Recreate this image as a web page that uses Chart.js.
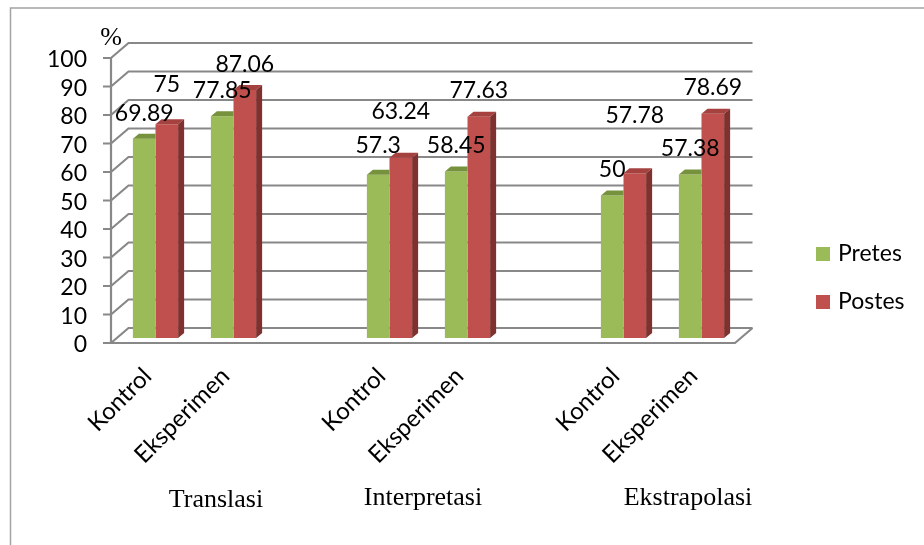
<!DOCTYPE html>
<html>
<head>
<meta charset="utf-8">
<title>Pretes dan Postes</title>
<script src="https://cdn.jsdelivr.net/npm/chart.js@4.4.1/dist/chart.umd.min.js"></script>
<style>
  html, body { margin: 0; padding: 0; background: #fff; }
  canvas { display: block; }
</style>
</head>
<body>
<canvas id="chart" width="924" height="545"></canvas>
<script>
'use strict';

/* ─── Data ─── */
const ASPECTS = ['Translasi', 'Interpretasi', 'Ekstrapolasi'];
const CLASSES = ['Kontrol', 'Eksperimen'];

// mean score (%) per class, in aspect order
const PRETES = [69.89, 77.85, 57.3, 58.45, 50, 57.38];
const POSTES = [75, 87.06, 63.24, 77.63, 57.78, 78.69];

const Y_MIN = 0, Y_MAX = 100, Y_STEP = 10;

/* ─── Look ─── */
const SANS  = '"Lato", "Open Sans", sans-serif';
const SERIF = '"Liberation Serif", "DejaVu Serif", serif';
const FONT_SIZE = 23;
const GREEN = '#9bbb59', GREEN_TOP = '#76923c';
const RED   = '#c0504d', RED_TOP = '#a5423f', RED_SIDE = '#7e312e';
const GRID  = '#888888';

// how far each value label sits above its bar
const PRE_LIFT  = [25, 26, 29, 26, 26, 26];
const POST_LIFT = [40, 25, 46, 26, 58, 26];

// x centres of the aspect captions under the axis
const ASPECT_X = [216, 423, 688];

// bar depth and wall offsets (px)
const DEPTH_X = 6, DEPTH_Y = 5;
const FRONT_X = -5.5, FRONT_Y = 5;
const WALL_X = 17.5, WALL_Y = -15;

/* ─── Build padded category list: a blank slot between aspects ─── */
const labels = [], pre = [], post = [], preLift = [], postLift = [];
ASPECTS.forEach((a, g) => {
  if (g > 0) {
    labels.push(''); pre.push(null); post.push(null);
    preLift.push(0); postLift.push(0);
  }
  CLASSES.forEach((c, k) => {
    const i = g * CLASSES.length + k;
    labels.push(c);
    pre.push(PRETES[i]);  preLift.push(PRE_LIFT[i]);
    post.push(POSTES[i]); postLift.push(POST_LIFT[i]);
  });
});

/* ─── Walls, floor and front axis ─── */
const frame3d = {
  id: 'frame3d',
  beforeDraw(chart) {
    const ctx = chart.ctx;
    ctx.save();
    ctx.strokeStyle = '#a3a3a3';
    ctx.lineWidth = 1.5;
    ctx.beginPath();
    ctx.moveTo(10.5, 545); ctx.lineTo(10.5, 8); ctx.lineTo(924, 8);
    ctx.stroke();
    ctx.restore();
  },
  beforeDatasetsDraw(chart) {
    const { ctx, chartArea: a, scales: { y } } = chart;
    const fl = a.left + FRONT_X, fr = a.right + FRONT_X;
    const bl = fl + WALL_X, br = fr + WALL_X;
    ctx.save();
    ctx.strokeStyle = GRID;
    ctx.lineWidth = 2.2;
    ctx.lineCap = 'butt';
    for (let v = Y_MIN; v <= Y_MAX; v += Y_STEP) {
      const fy = y.getPixelForValue(v) + FRONT_Y;
      const by = fy + WALL_Y;
      ctx.beginPath();
      ctx.moveTo(fl - 8, fy); ctx.lineTo(fl, fy);     // tick
      ctx.lineTo(bl, by);                             // side wall
      ctx.lineTo(br, by);                             // back wall
      ctx.stroke();
    }
    const f0 = y.getPixelForValue(Y_MIN) + FRONT_Y;
    const f1 = y.getPixelForValue(Y_MAX) + FRONT_Y;
    ctx.beginPath();
    ctx.moveTo(fl, f1); ctx.lineTo(fl, f0);           // front axis
    ctx.lineTo(fr, f0); ctx.lineTo(br, f0 + WALL_Y);  // floor edge
    ctx.stroke();
    ctx.restore();
  },
  afterDatasetsDraw(chart) {
    const ctx = chart.ctx;
    const sets = chart.data.datasets;
    ctx.save();
    // top and side faces
    sets.forEach((ds, di) => {
      const last = di === sets.length - 1;
      chart.getDatasetMeta(di).data.forEach((bar, i) => {
        if (ds.data[i] == null) return;
        const p = bar.getProps(['x', 'y', 'base', 'width'], true);
        const l = p.x - p.width / 2, r = p.x + p.width / 2;
        ctx.fillStyle = ds.topColor;
        ctx.beginPath();
        ctx.moveTo(l, p.y);
        ctx.lineTo(l + DEPTH_X, p.y - DEPTH_Y);
        ctx.lineTo(last ? r + DEPTH_X : r, p.y - DEPTH_Y);
        ctx.lineTo(r, p.y);
        ctx.closePath();
        ctx.fill();
        if (last) {
          ctx.fillStyle = ds.sideColor;
          ctx.beginPath();
          ctx.moveTo(r, p.y);
          ctx.lineTo(r + DEPTH_X, p.y - DEPTH_Y);
          ctx.lineTo(r + DEPTH_X, p.base - DEPTH_Y);
          ctx.lineTo(r, p.base);
          ctx.closePath();
          ctx.fill();
        }
      });
    });
    // value labels
    ctx.fillStyle = '#000';
    ctx.font = FONT_SIZE + 'px ' + SANS;
    ctx.textAlign = 'center';
    ctx.textBaseline = 'middle';
    sets.forEach((ds, di) => {
      chart.getDatasetMeta(di).data.forEach((bar, i) => {
        if (ds.data[i] == null) return;
        const p = bar.getProps(['x', 'y'], true);
        ctx.fillText(String(ds.data[i]), p.x, p.y - ds.lift[i]);
      });
    });
    ctx.restore();
  },
  afterDraw(chart) {
    const ctx = chart.ctx;
    ctx.save();
    ctx.fillStyle = '#000';
    // unit
    ctx.font = '26px ' + SERIF;
    ctx.textAlign = 'center';
    ctx.textBaseline = 'alphabetic';
    ctx.fillText('%', 111, 45);
    // aspect captions
    ASPECTS.forEach((a, g) => ctx.fillText(a, ASPECT_X[g], g === 0 ? 507 : 505));
    // legend
    ctx.font = FONT_SIZE + 'px ' + SANS;
    ctx.textAlign = 'left';
    ctx.textBaseline = 'middle';
    chart.data.datasets.forEach((ds, di) => {
      const top = 247 + di * 48;
      ctx.fillStyle = ds.backgroundColor;
      ctx.fillRect(816, top, 14, 14);
      ctx.fillStyle = '#000';
      ctx.fillText(ds.label, 838, top + 7);
    });
    ctx.restore();
  }
};

new Chart(document.getElementById('chart'), {
  type: 'bar',
  data: {
    labels: labels,
    datasets: [
      { label: 'Pretes', data: pre,  backgroundColor: GREEN, topColor: GREEN_TOP, lift: preLift },
      { label: 'Postes', data: post, backgroundColor: RED, topColor: RED_TOP, sideColor: RED_SIDE, lift: postLift }
    ]
  },
  options: {
    responsive: false,
    animation: false,
    devicePixelRatio: 1,
    layout: { padding: { top: 53, right: 183.5, left: 0, bottom: 0 } },
    datasets: { bar: { categoryPercentage: 0.58, barPercentage: 1, borderWidth: 0 } },
    plugins: { legend: { display: false }, tooltip: { enabled: false } },
    scales: {
      x: {
        grid: { display: false, drawTicks: false },
        border: { display: false },
        ticks: {
          autoSkip: false, minRotation: 45, maxRotation: 45, padding: 24, labelOffset: -8,
          color: '#000', font: { family: SANS, size: 24 }
        },
        afterFit(s) { s.height = 207; }
      },
      y: {
        min: Y_MIN, max: Y_MAX,
        grid: { display: false, drawTicks: false },
        border: { display: false },
        ticks: {
          autoSkip: false, stepSize: Y_STEP, padding: 29.5, labelOffset: 7,
          color: '#000', font: { family: SANS, size: FONT_SIZE }
        },
        afterFit(s) { s.width = 116.5; }
      }
    }
  },
  plugins: [frame3d]
});
</script>
</body>
</html>
